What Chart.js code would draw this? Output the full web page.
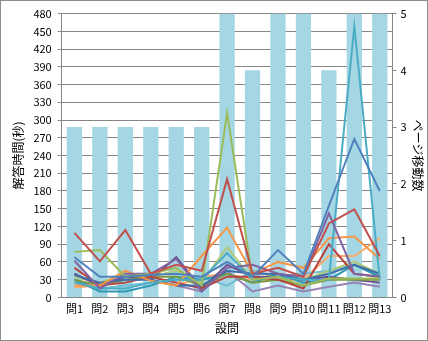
<!DOCTYPE html>
<html>
<head>
<meta charset="utf-8">
<script src="https://cdn.jsdelivr.net/npm/chart.js@4.4.0/dist/chart.umd.min.js"></script>
<style>
  html, body { margin: 0; padding: 0; background: #fff; }
  #wrap { width: 426px; height: 339px; border: 1px solid #8c8c8c; position: relative; }
</style>
</head>
<body>
<div id="wrap"><canvas id="chart" width="426" height="339"></canvas></div>
<script>
// カテゴリ（設問）
const questions = ['問1', '問2', '問3', '問4', '問5', '問6', '問7', '問8', '問9', '問10', '問11', '問12', '問13'];

// ページ移動数（棒グラフ・右軸）
const pageMoves = [3, 3, 3, 3, 3, 3, 5, 4, 5, 5, 4, 5, 5];

// 解答時間（秒）— 受験者ごとの折れ線（左軸）
const userA = [68, 35, 35, 38, 40, 35, 60, 35, 80, 40, 155, 268, 180];
const userB = [109, 61, 114, 40, 55, 45, 200, 40, 50, 35, 125, 149, 70];
const userC = [77, 80, 35, 40, 50, 20, 312, 30, 35, 20, 32, 32, 32];
const userD = [62, 15, 40, 40, 65, 10, 50, 55, 40, 35, 142, 40, 35];
const userE = [25, 15, 15, 25, 30, 30, 75, 30, 35, 30, 30, 458, 30];
const userF = [20, 20, 45, 28, 20, 70, 118, 40, 60, 50, 100, 103, 65];
const userG = [38, 25, 30, 30, 20, 20, 45, 40, 40, 30, 40, 55, 40];
const userH = [50, 20, 25, 35, 25, 15, 35, 35, 30, 15, 90, 40, 35];
const userI = [30, 20, 30, 35, 35, 20, 40, 25, 30, 20, 30, 30, 30];
const userJ = [40, 20, 35, 30, 68, 15, 55, 35, 35, 30, 35, 30, 25];
const userK = [30, 10, 10, 20, 35, 30, 40, 25, 40, 25, 30, 55, 35];
const userL = [35, 25, 40, 35, 45, 25, 85, 30, 40, 30, 45, 60, 40];
const userM = [25, 20, 35, 30, 20, 10, 45, 10, 20, 10, 18, 25, 18];
const userN = [30, 15, 20, 25, 30, 35, 20, 45, 35, 40, 45, 55, 35];
const userO = [17, 20, 45, 28, 20, 35, 40, 30, 30, 30, 70, 70, 100];

const lineSeries = [userA, userB, userC, userD, userE, userF, userG, userH, userI, userJ, userK, userL, userM, userN, userO];
const lineColors = [
  '#4F81BD', '#C0504D', '#9BBB59', '#8064A2', '#4BACC6', '#F79646',
  '#3F6FA8', '#B8433F', '#7E9A44', '#6B4E8F', '#3198B3', '#AFC97A',
  '#9983B5', '#6FBDD1', '#F9AB6B'
];

const FONT = `'Noto Sans CJK JP', 'Noto Sans', sans-serif`;
const timeTicks = [0, 30, 60, 90, 120, 150, 180, 210, 240, 270, 300, 330, 360, 390, 420, 450, 480];
const moveTicks = [0, 1, 2, 3, 4, 5];

const datasets = lineSeries.map((d, i) => ({
  type: 'line',
  data: d,
  yAxisID: 'y',
  borderColor: lineColors[i],
  backgroundColor: lineColors[i],
  borderWidth: 2,
  pointRadius: 0,
  tension: 0,
  fill: false,
  order: 1
}));

datasets.push({
  type: 'bar',
  data: pageMoves,
  yAxisID: 'y1',
  backgroundColor: '#A5D6E3',
  borderWidth: 0,
  barPercentage: 0.6,
  categoryPercentage: 1,
  order: 100
});

new Chart(document.getElementById('chart'), {
  data: { labels: questions, datasets },
  options: {
    responsive: false,
    animation: false,
    layout: { padding: { left: 10, right: 0, top: 10, bottom: 4 } },
    plugins: { legend: { display: false }, tooltip: { enabled: false } },
    scales: {
      x: {
        grid: { display: false, drawTicks: false },
        border: { color: '#868686' },
        ticks: { color: '#000', font: { family: FONT, size: 11 }, maxRotation: 0, autoSkip: false, padding: 5 },
        title: { display: true, text: '設問', color: '#000', font: { family: FONT, size: 12 }, padding: { top: 1, bottom: 0 } }
      },
      y: {
        position: 'left',
        min: 0, max: 480,
        afterBuildTicks: (s) => { s.ticks = timeTicks.map(v => ({ value: v })); },
        grid: { color: '#868686', drawTicks: true, tickLength: 4 },
        border: { color: '#868686' },
        ticks: { color: '#000', font: { family: FONT, size: 11 }, padding: 6 },
        title: { display: true, text: '解答時間(秒)', color: '#000', font: { family: FONT, size: 12 }, padding: { top: 0, bottom: 2 } }
      },
      y1: {
        position: 'right',
        min: 0, max: 5,
        afterBuildTicks: (s) => { s.ticks = moveTicks.map(v => ({ value: v })); },
        grid: { drawOnChartArea: false, color: '#868686', tickLength: 4 },
        border: { color: '#868686' },
        ticks: { color: '#000', font: { family: FONT, size: 11 }, padding: 4 },
        title: { display: true, text: 'ページ移動数', color: '#000', font: { family: FONT, size: 12 }, padding: { top: 2, bottom: 0 } }
      }
    }
  }
});
</script>
</body>
</html>
